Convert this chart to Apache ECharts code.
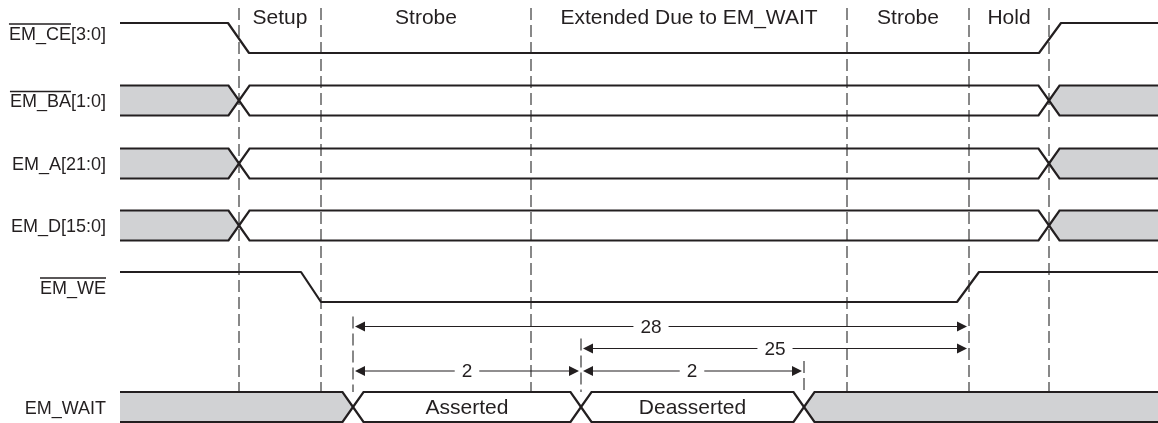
<!DOCTYPE html>
<html><head><meta charset="utf-8">
<script src="https://cdn.jsdelivr.net/npm/echarts@6/dist/echarts.min.js"></script>
<style>html,body{margin:0;padding:0;background:#fff}#c{width:1158px;height:423px}</style>
</head><body><div id="c"></div>
<script>
// ---------------- data ----------------
const phaseNames = ['Setup', 'Strobe', 'Extended Due to EM_WAIT', 'Strobe', 'Hold'];
const phaseBounds = [239, 321, 531, 847, 969, 1049];
const signalNames = ['EM_CE[3:0]', 'EM_BA[1:0]', 'EM_A[21:0]', 'EM_D[15:0]', 'EM_WE', 'EM_WAIT'];
const overlinedPart = ['EM_CE', 'EM_BA', '', '', 'EM_WE', ''];
const tStart = 120, tEnd = 1158;
const ceTimes = [120, 228, 249, 1039, 1061, 1158];
const ceLevels = [1, 1, 0, 0, 1, 1];
const weTimes = [120, 301, 321, 957, 979, 1158];
const weLevels = [1, 1, 0, 0, 1, 1];
const busEdges = [239, 1049];
const busStates = ['x', 'valid', 'x'];
const waitEdges = [353, 581, 804];
const waitStates = ['x', 'Asserted', 'Deasserted', 'x'];
const measFrom = [353, 581, 353, 581];
const measTo = [969, 969, 581, 804];
const measLabels = ['28', '25', '2', '2'];
const measLabelAt = [651, 775, 467, 692];
const measRow = [0, 1, 2, 2];

// ---------------- layout / style ----------------
const INK = '#231f20', GREY = '#d1d2d4', DASH = '#3a3a3a';
const FONT = "'Liberation Sans', Arial, Helvetica, sans-serif";
const rowTop = [23, 85.5, 148.5, 210.5, 272, 392];
const rowH = 30;
const EDGE = 10.5;
const labelRight = 106;
const dashTop = 8, dashBottom = 392;
const measureY = [326.5, 348.5, 371];
const LABEL_PX = 18, HEAD_PX = 21, INNER_PX = 21, NUM_PX = 19;

function levelY(row, lv) { return rowTop[row] + (1 - lv) * rowH; }

// bus regions
const busRegions = [];
[1, 2, 3].forEach(row => {
  const edges = [tStart, ...busEdges, tEnd];
  busStates.forEach((st, i) => busRegions.push({row, s: edges[i], e: edges[i + 1], state: st, lEdge: i > 0, rEdge: i < busStates.length - 1}));
});
{
  const edges = [tStart, ...waitEdges, tEnd];
  waitStates.forEach((st, i) => busRegions.push({row: 5, s: edges[i], e: edges[i + 1], state: st, lEdge: i > 0, rEdge: i < waitStates.length - 1}));
}

// text measuring for overlines
const mctx = document.createElement('canvas').getContext('2d');
function textW(t, px) { mctx.font = px + 'px ' + FONT; return mctx.measureText(t).width; }

function renderBus(params, api) {
  const r = busRegions[params.dataIndex];
  const top = rowTop[r.row], bot = top + rowH, mid = top + rowH / 2;
  const P = (t, y) => api.coord([t, y]);
  const tp = [], bp = [];
  if (r.lEdge) { tp.push(P(r.s, mid), P(r.s + EDGE, top)); bp.push(P(r.s, mid), P(r.s + EDGE, bot)); }
  else { tp.push(P(r.s, top)); bp.push(P(r.s, bot)); }
  if (r.rEdge) { tp.push(P(r.e - EDGE, top), P(r.e, mid)); bp.push(P(r.e - EDGE, bot), P(r.e, mid)); }
  else { tp.push(P(r.e, top)); bp.push(P(r.e, bot)); }
  const ch = [];
  if (r.state === 'x') ch.push({type: 'polygon', shape: {points: tp.concat(bp.slice().reverse())}, style: {fill: GREY}});
  ch.push({type: 'polyline', shape: {points: tp}, style: {stroke: INK, lineWidth: 2.2, fill: null, lineJoin: 'miter'}});
  ch.push({type: 'polyline', shape: {points: bp}, style: {stroke: INK, lineWidth: 2.2, fill: null, lineJoin: 'miter'}});
  if (r.state !== 'x' && r.state !== 'valid') {
    const c = P((r.s + r.e) / 2, mid + 1.5);
    ch.push({type: 'text', style: {text: r.state, x: c[0], y: c[1], font: INNER_PX + 'px ' + FONT, fill: INK, align: 'center', verticalAlign: 'middle', textAlign: 'center', textVerticalAlign: 'middle'}});
  }
  return {type: 'group', children: ch};
}

function renderPhaseLine(params, api) {
  const t = api.value(0);
  const a = api.coord([t, dashTop]), b = api.coord([t, dashBottom]);
  return {type: 'line', shape: {x1: a[0], y1: a[1], x2: b[0], y2: b[1]}, style: {stroke: DASH, lineWidth: 1.2, lineDash: [12, 5]}};
}

function renderPhaseName(params, api) {
  const i = params.dataIndex;
  const c = api.coord([(phaseBounds[i] + phaseBounds[i + 1]) / 2, 18]);
  return {type: 'text', style: {text: phaseNames[i], x: c[0], y: c[1], font: HEAD_PX + 'px ' + FONT, fill: INK, align: 'center', verticalAlign: 'middle', textAlign: 'center', textVerticalAlign: 'middle'}};
}

function renderSignalName(params, api) {
  const i = params.dataIndex;
  const yMid = rowTop[i] + rowH / 2 + (i === 0 ? -3 : 2);
  const c = api.coord([labelRight, yMid]);
  const ch = [{type: 'text', style: {text: signalNames[i], x: c[0], y: c[1], font: LABEL_PX + 'px ' + FONT, fill: INK, align: 'right', verticalAlign: 'middle', textAlign: 'right', textVerticalAlign: 'middle'}}];
  if (overlinedPart[i]) {
    const full = textW(signalNames[i], LABEL_PX), part = textW(overlinedPart[i], LABEL_PX);
    const x0 = c[0] - full, oy = c[1] - LABEL_PX * 0.36 - 4.5;
    ch.push({type: 'line', shape: {x1: x0, y1: oy, x2: x0 + part, y2: oy}, style: {stroke: INK, lineWidth: 1.3}});
  }
  return {type: 'group', children: ch};
}

// extension ticks for the measurements
const extTicks = [];
[...new Set(measFrom.concat(measTo))].forEach(t => {
  if (phaseBounds.includes(t)) return;
  let ys = [];
  measFrom.forEach((f, k) => { if (f === t || measTo[k] === t) ys.push(measureY[measRow[k]]); });
  extTicks.push({t, top: Math.min(...ys) - 10});
});
function renderExt(params, api) {
  const e = extTicks[params.dataIndex];
  const a = api.coord([e.t, e.top]), b = api.coord([e.t, dashBottom]);
  return {type: 'line', shape: {x1: a[0], y1: a[1], x2: b[0], y2: b[1]}, style: {stroke: DASH, lineWidth: 1.2, lineDash: [12, 5]}};
}

function renderMeasure(params, api) {
  const k = params.dataIndex;
  const y = measureY[measRow[k]];
  const a = api.coord([measFrom[k], y]), b = api.coord([measTo[k], y]);
  const xa = a[0] + 2, xb = b[0] - 2, yy = a[1];
  const L = 10, W = 5;
  const c = api.coord([measLabelAt[k], y]);
  return {type: 'group', children: [
    {type: 'line', shape: {x1: xa + L, y1: yy, x2: xb - L, y2: yy}, style: {stroke: INK, lineWidth: 1.2}},
    {type: 'polygon', shape: {points: [[xa, yy], [xa + L, yy - W], [xa + L, yy + W]]}, style: {fill: INK}},
    {type: 'polygon', shape: {points: [[xb, yy], [xb - L, yy - W], [xb - L, yy + W]]}, style: {fill: INK}},
    {type: 'text', style: {text: measLabels[k], x: c[0], y: c[1] + 1, font: NUM_PX + 'px ' + FONT, fill: INK, align: 'center', verticalAlign: 'middle', textAlign: 'center', textVerticalAlign: 'middle', backgroundColor: '#fff', padding: [0, 7]}}
  ]};
}

const chart = echarts.init(document.getElementById('c'));
chart.setOption({
  animation: false,
  backgroundColor: '#fff',
  grid: {left: 0, right: 0, top: 0, bottom: 0},
  xAxis: {type: 'value', min: 0, max: 1158, show: false},
  yAxis: {type: 'value', min: 0, max: 423, inverse: true, show: false},
  series: [
    {type: 'custom', clip: false, renderItem: renderPhaseLine, data: phaseBounds.map(t => [t]), encode: {x: 0}, z: 1},
    {type: 'custom', clip: false, renderItem: renderExt, data: extTicks.map(e => [e.t]), encode: {x: 0}, z: 1},
    {type: 'custom', clip: false, renderItem: renderPhaseName, data: phaseNames.map((n, i) => [phaseBounds[i]]), encode: {x: 0}, z: 3},
    {type: 'custom', clip: false, renderItem: renderSignalName, data: signalNames.map((n, i) => [labelRight, i]), encode: {x: 0}, z: 3},
    {type: 'custom', clip: false, renderItem: renderBus, data: busRegions.map(r => [r.s, r.e]), encode: {x: [0, 1]}, z: 2},
    {type: 'custom', clip: false, renderItem: renderMeasure, data: measLabels.map((l, k) => [measFrom[k], measTo[k]]), encode: {x: [0, 1]}, z: 4},
    {type: 'line', data: ceTimes.map((t, i) => [t, levelY(0, ceLevels[i])]), symbol: 'none', lineStyle: {color: INK, width: 2.2}, z: 2},
    {type: 'line', data: weTimes.map((t, i) => [t, levelY(4, weLevels[i])]), symbol: 'none', lineStyle: {color: INK, width: 2.2}, z: 2}
  ]
});
</script>
</body></html>
